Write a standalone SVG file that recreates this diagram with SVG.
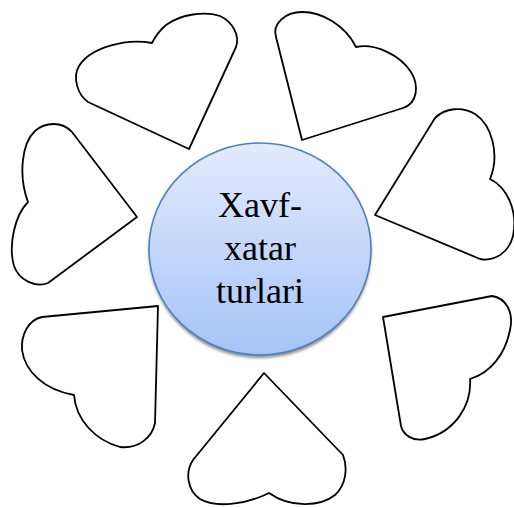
<svg xmlns="http://www.w3.org/2000/svg" width="514" height="507" viewBox="0 0 514 507">
<style>
.heart{fill:#ffffff;stroke:#000000;stroke-width:1.8;stroke-linejoin:round}
.lbl{font-family:"Liberation Serif","Times New Roman",serif;font-size:36px;fill:#000000;text-anchor:middle}
</style>
<defs>
<linearGradient id="cg" x1="0" y1="0" x2="0" y2="1">
<stop offset="0" stop-color="#e2ebfc"/>
<stop offset="1" stop-color="#a6c3f8"/>
</linearGradient>
<filter id="sh" x="-10%" y="-10%" width="120%" height="120%">
<feGaussianBlur stdDeviation="1.5"/>
</filter>
</defs>
<rect width="514" height="507" fill="#ffffff"/>
<g id="connectors"></g>
<g id="heart-top-left"><path class="heart" d="M189,149 L236,47 C240,36 233,22 220,16 C205,11 181,14 166,25 C159,31 155,37 152,43 C125,38 90,48 79,66 C72,78 78,95 88,102 Z"/></g>
<g id="heart-top-right"><path class="heart" d="M302,140 L276,37 C272,24 285,12 302,12 C322,12 345,25 356,47 C375,43 400,55 411,72 C419,85 418,103 403,108 Z"/></g>
<g id="heart-right"><path class="heart" d="M375,215 L435,118 C445,108 462,106 475,114 C492,125 500,155 490,179 C508,188 518,212 513,236 C509,252 495,262 480,259 Z"/></g>
<g id="heart-bottom-right"><path class="heart" d="M383,317 L492,296 C506,298 514,312 510,330 C505,355 490,373 470,379 C472,405 455,432 425,439 C412,442 403,434 401,426 Z"/></g>
<g id="heart-bottom"><path class="heart" d="M264,373 L193,460 C185,472 187,490 200,499 C215,508 245,505 269,493 C290,508 320,507 335,495 C346,485 348,468 343,455 Z"/></g>
<g id="heart-bottom-left"><path class="heart" d="M158,306 L42,317 C28,320 21,335 22,350 C25,372 45,390 74,395 C76,420 95,440 120,447 C138,449 152,438 155,423 Z"/></g>
<g id="heart-left"><path class="heart" d="M137,217 L72,132 C62,121 45,122 35,131 C22,143 18,175 28,202 C15,215 8,245 14,266 C19,280 35,288 48,283 Z"/></g>
<g id="center">
<ellipse cx="260" cy="252" rx="111" ry="106" fill="#8a8a8a" filter="url(#sh)"/>
<ellipse cx="260" cy="249" rx="111" ry="106" fill="url(#cg)" stroke="#4f81bd" stroke-width="1.6"/>
<text class="lbl" x="260" y="217">Xavf-</text>
<text class="lbl" x="260" y="260">xatar</text>
<text class="lbl" x="260" y="303">turlari</text>
</g>
</svg>
